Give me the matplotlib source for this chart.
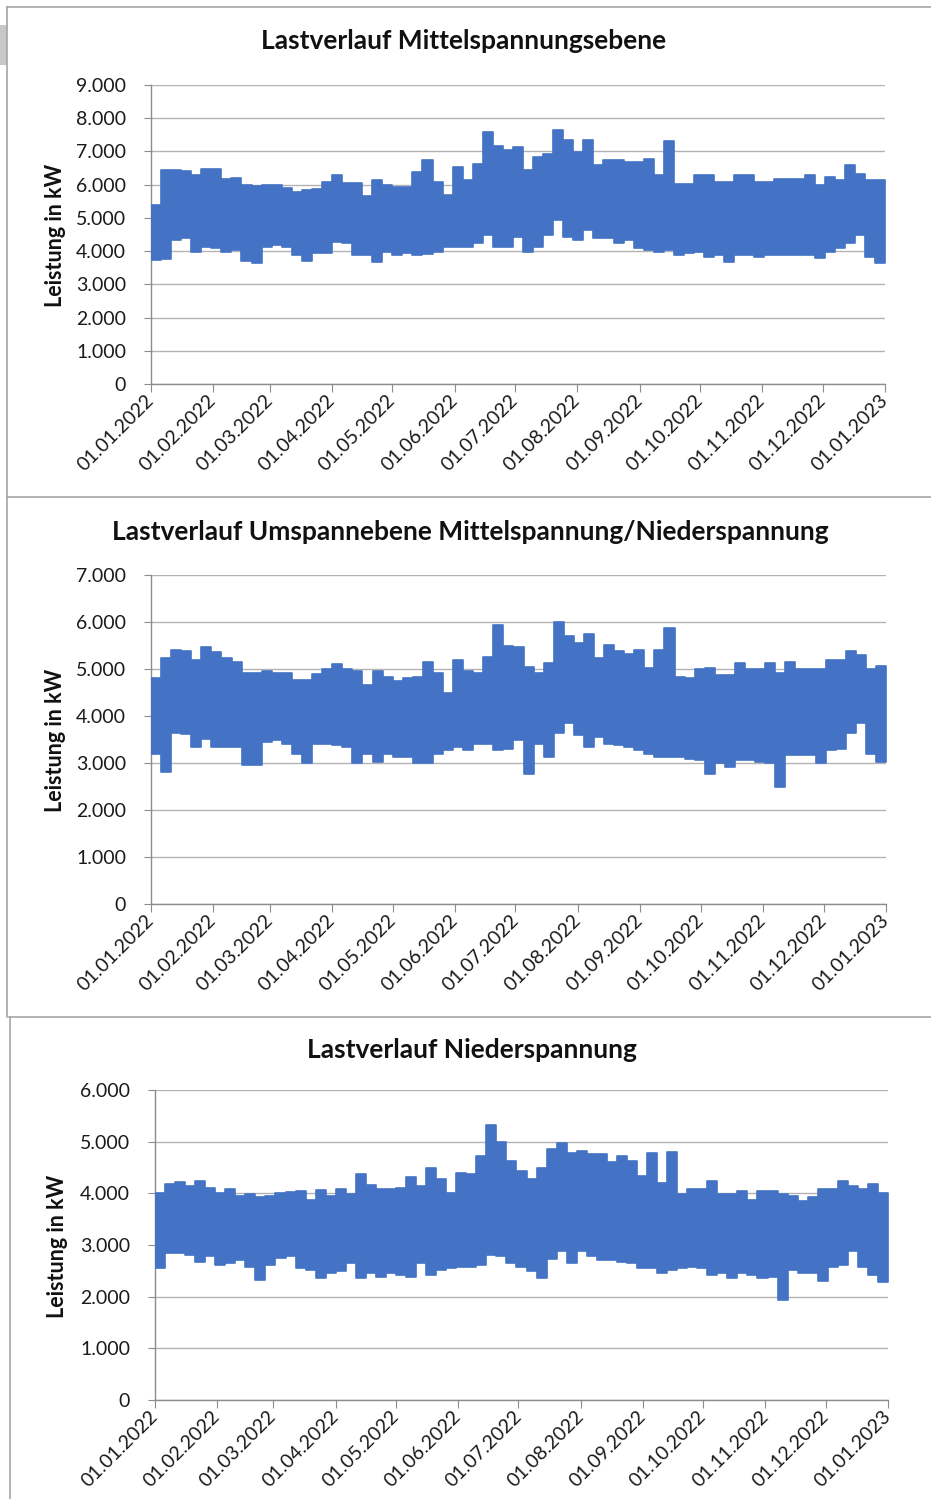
import numpy as np
import matplotlib
matplotlib.use('Agg')
import matplotlib.pyplot as plt
from matplotlib.lines import Line2D
from matplotlib.patches import Rectangle

# ---------------- data (kW, envelope per 5-day block) -------------
month_days = [0, 31, 59, 90, 120, 151, 181, 212, 243, 273, 304, 334, 365]
month_labels = ['01.01.2022', '01.02.2022', '01.03.2022', '01.04.2022', '01.05.2022',
                '01.06.2022', '01.07.2022', '01.08.2022', '01.09.2022', '01.10.2022',
                '01.11.2022', '01.12.2022', '01.01.2023']
block_start = list(range(0, 365, 5))

ms_top = [5400, 6450, 6450, 6400, 6280, 6480, 6480, 6180, 6200, 5980,
          5950, 6000, 6000, 5900, 5780, 5830, 5880, 6080, 6280, 6050,
          6050, 5650, 6150, 5980, 5930, 5930, 6380, 6730, 6080, 5700,
          6530, 6130, 6630, 7580, 7150, 7030, 7130, 6450, 6830, 6930,
          7650, 7350, 6980, 7330, 6580, 6730, 6730, 6680, 6680, 6780,
          6280, 7310, 6030, 6030, 6280, 6280, 6080, 6080, 6280, 6280,
          6080, 6080, 6180, 6180, 6180, 6280, 5980, 6230, 6130, 6580,
          6330, 6130, 6130]
ms_bot = [3730, 3750, 4330, 4380, 3980, 4130, 4080, 3980, 4030, 3700,
          3650, 4130, 4180, 4130, 3880, 3700, 3930, 3930, 4280, 4230,
          3880, 3880, 3680, 3980, 3880, 3930, 3880, 3900, 3980, 4130,
          4130, 4130, 4230, 4480, 4130, 4130, 4430, 3980, 4130, 4480,
          4930, 4430, 4330, 4630, 4380, 4380, 4230, 4330, 4080, 4030,
          3980, 4030, 3880, 3930, 3980, 3830, 3880, 3680, 3880, 3880,
          3830, 3880, 3880, 3880, 3880, 3880, 3780, 3980, 4080, 4230,
          4480, 3830, 3630]

ums_top = [4800, 5240, 5400, 5380, 5200, 5460, 5360, 5240, 5140, 4910,
           4910, 4950, 4910, 4910, 4770, 4770, 4890, 4990, 5110, 4990,
           4950, 4660, 4950, 4840, 4740, 4810, 4840, 5140, 4910, 4490,
           5190, 4950, 4910, 5250, 5930, 5490, 5470, 5040, 4910, 5130,
           5990, 5700, 5560, 5740, 5240, 5520, 5380, 5310, 5410, 5020,
           5410, 5880, 4840, 4810, 4990, 5020, 4880, 4880, 5130, 4990,
           4990, 5130, 4910, 5140, 4990, 4990, 4990, 5190, 5200, 5380,
           5290, 4990, 5060]
ums_bot = [3200, 2800, 3640, 3610, 3340, 3500, 3340, 3340, 3340, 2950,
           2950, 3450, 3490, 3410, 3200, 3000, 3410, 3410, 3380, 3340,
           2990, 3200, 3020, 3200, 3130, 3130, 3000, 3000, 3200, 3270,
           3340, 3270, 3410, 3410, 3270, 3300, 3490, 2760, 3410, 3130,
           3640, 3850, 3600, 3340, 3560, 3410, 3380, 3340, 3270, 3200,
           3130, 3130, 3130, 3090, 3060, 2770, 2990, 2910, 3060, 3060,
           3020, 3000, 2490, 3160, 3160, 3160, 2990, 3270, 3300, 3640,
           3850, 3200, 3020]

ns_top = [4000, 4180, 4210, 4140, 4240, 4110, 4010, 4080, 3950, 3980,
          3920, 3950, 4010, 4030, 4050, 3880, 4060, 3950, 4090, 3990,
          4370, 4160, 4080, 4080, 4110, 4310, 4140, 4500, 4270, 4010,
          4400, 4370, 4730, 5320, 4990, 4630, 4440, 4270, 4500, 4860,
          4970, 4790, 4820, 4760, 4760, 4600, 4730, 4630, 4340, 4790,
          4200, 4800, 3980, 4080, 4080, 4240, 3980, 3980, 4050, 3880,
          4050, 4050, 3980, 3950, 3850, 3920, 4080, 4080, 4240, 4140,
          4080, 4180, 4000]
ns_bot = [2550, 2840, 2840, 2810, 2680, 2780, 2620, 2650, 2710, 2580,
          2320, 2620, 2750, 2780, 2550, 2520, 2360, 2450, 2490, 2650,
          2360, 2450, 2390, 2450, 2420, 2390, 2650, 2420, 2520, 2550,
          2580, 2580, 2610, 2810, 2780, 2650, 2580, 2500, 2360, 2730,
          2890, 2650, 2890, 2780, 2710, 2710, 2680, 2650, 2550, 2550,
          2450, 2520, 2550, 2580, 2550, 2420, 2450, 2360, 2450, 2420,
          2360, 2390, 1930, 2520, 2460, 2460, 2300, 2580, 2610, 2890,
          2580, 2420, 2290]

titles = ['Lastverlauf Mittelspannungsebene',
          'Lastverlauf Umspannebene Mittelspannung/Niederspannung',
          'Lastverlauf Niederspannung']
y_label = 'Leistung in kW'
y_max = [9000, 7000, 6000]

# ---------------- layout (pixels) ----------------
W, H = 931, 1499
BLUE = '#4472C4'
GRID = '#B3B3B3'
AXC = '#8C8C8C'
FONT = 'Lato'

fig = plt.figure(figsize=(W / 100, H / 100), dpi=100)
fig.patch.set_facecolor('white')

rects = [(151, 885, 85, 384), (151, 886, 575, 904), (155, 888, 1090, 1400)]
title_pos = [(464, 41), (470, 532), (472, 1050)]
ylab_pos = [(55, 235), (55, 740), (58, 1246)]
series = [(ms_top, ms_bot), (ums_top, ums_bot), (ns_top, ns_bot)]


def fmt(v):
    return f'{v:,}'.replace(',', '.')


for i in range(3):
    l, r, t, b = rects[i]
    ax = fig.add_axes([l / W, 1 - b / H, (r - l) / W, (b - t) / H])
    top, bot = series[i]
    xs = np.append(np.array(block_start, dtype=float), 365.0)
    yt = np.append(np.array(top, dtype=float), top[-1])
    yb = np.append(np.array(bot, dtype=float), bot[-1])
    ax.fill_between(xs, yb, yt, step='post', color=BLUE, lw=1.2, edgecolor=BLUE, zorder=3)
    ax.set_xlim(0, 365)
    ax.set_ylim(0, y_max[i])
    yticks = list(range(0, y_max[i] + 1, 1000))
    ax.set_yticks(yticks)
    ax.set_yticklabels([fmt(v) for v in yticks], fontsize=14, family=FONT)
    ax.set_xticks(month_days)
    ax.set_xticklabels(month_labels, rotation=45, ha='right', va='center',
                       rotation_mode='anchor', fontsize=14, family=FONT)
    ax.yaxis.grid(True, color=GRID, lw=1.0, zorder=0)
    ax.set_axisbelow(True)
    for s in ('top', 'right'):
        ax.spines[s].set_visible(False)
    for s in ('left', 'bottom'):
        ax.spines[s].set_color(AXC)
        ax.spines[s].set_linewidth(1.0)
    ax.tick_params(axis='y', length=5, color=AXC, pad=13, labelcolor='#1a1a1a')
    ax.tick_params(axis='x', length=6, color=AXC, pad=4, labelcolor='#1a1a1a')
    tx, ty = title_pos[i]
    fig.text(tx / W, 1 - ty / H, titles[i], ha='center', va='center',
             fontsize=19, fontweight='bold', family=FONT, color='#111111')
    lx, ly = ylab_pos[i]
    fig.text(lx / W, 1 - ly / H, y_label, ha='center', va='center', rotation=90,
             fontsize=15.5, fontweight='bold', family=FONT, color='#111111')


def hline(x0, x1, y):
    fig.add_artist(Line2D([x0 / W, x1 / W], [1 - y / H, 1 - y / H], color='#A6A6A6', lw=1.2))


def vline(x, y0, y1):
    fig.add_artist(Line2D([x / W, x / W], [1 - y0 / H, 1 - y1 / H], color='#A6A6A6', lw=1.2))


hline(7, 931, 7)
vline(7, 7, 497)
hline(7, 931, 497)
vline(7, 497, 1017)
hline(9, 931, 1017)
vline(10, 1017, 1499)
fig.add_artist(Rectangle((0, 1 - 65 / H), 7 / W, 40 / H, transform=fig.transFigure,
                         color='#C8C8C8', lw=0))

fig.savefig('out.png', dpi=100)
